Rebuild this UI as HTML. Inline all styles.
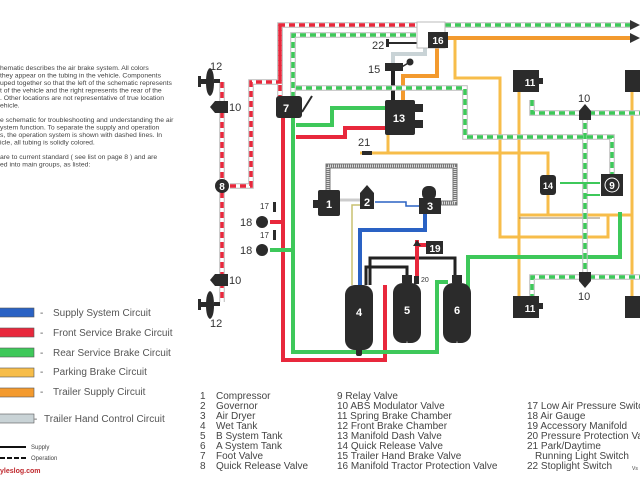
<!DOCTYPE html>
<html><head><meta charset="utf-8"><style>
html,body{margin:0;padding:0;background:#fff;width:640px;height:480px;overflow:hidden}
svg{display:block}
text{font-family:"Liberation Sans",sans-serif}
</style></head><body>
<svg width="640" height="480" viewBox="0 0 640 480" xmlns="http://www.w3.org/2000/svg">
<rect width="640" height="480" fill="#fff"/>
<g font-size="6.8" fill="#444">
<text x="0" y="70">hematic describes the air brake system. All colors</text>
<text x="0" y="77.5">they appear on the tubing in the vehicle. Components</text>
<text x="0" y="85">uped together so that the left of the schematic represents</text>
<text x="0" y="92.5">t of the vehicle and the right represents the rear of the</text>
<text x="0" y="100">. Other locations are not representative of true location</text>
<text x="0" y="107.5">ehicle.</text>
<text x="0" y="122">e schematic for troubleshooting and understanding the air</text>
<text x="0" y="129.5">ystem function. To separate the supply and operation</text>
<text x="0" y="137">s, the operation system is shown with dashed lines. In</text>
<text x="0" y="144.5">icle, all tubing is solidly colored.</text>
<text x="0" y="159">are to current standard ( see list on page 8 ) and are</text>
<text x="0" y="166.5">ed into main groups, as listed:</text>
</g>
<g stroke="#555" stroke-width="0.6">
<rect x="-1" y="308" width="35" height="9" fill="#2a62c4"/>
<rect x="-1" y="328" width="35" height="9" fill="#e8283c"/>
<rect x="-1" y="348" width="35" height="9" fill="#3ec85a"/>
<rect x="-1" y="368" width="35" height="9" fill="#f7bd4a"/>
<rect x="-1" y="388" width="35" height="9" fill="#f39a2e"/>
<rect x="-1" y="414" width="35" height="9" fill="#c9d3d6"/>
</g>
<g font-size="10" fill="#555">
<text x="40" y="316">-</text><text x="53" y="316">Supply System Circuit</text>
<text x="40" y="336">-</text><text x="53" y="336">Front Service Brake Circuit</text>
<text x="40" y="356">-</text><text x="53" y="356">Rear Service Brake Circuit</text>
<text x="40" y="375">-</text><text x="53" y="375">Parking Brake Circuit</text>
<text x="40" y="395">-</text><text x="53" y="395">Trailer Supply Circuit</text>
<text x="34" y="422">-</text><text x="44" y="422">Trailer Hand Control Circuit</text>
</g>
<line x1="0" y1="447" x2="26" y2="447" stroke="#111" stroke-width="2"/>
<line x1="0" y1="458" x2="26" y2="458" stroke="#111" stroke-width="2" stroke-dasharray="5,2"/>
<text x="31" y="449" font-size="6" fill="#444">Supply</text>
<text x="31" y="460" font-size="6" fill="#444">Operation</text>
<text x="0" y="473" font-size="7" fill="#c0282d" font-weight="bold">yleslog.com</text>
<g font-size="10" fill="#444">
<text x="200" y="399">1</text><text x="216" y="399">Compressor</text>
<text x="200" y="409">2</text><text x="216" y="409">Governor</text>
<text x="200" y="419">3</text><text x="216" y="419">Air Dryer</text>
<text x="200" y="429">4</text><text x="216" y="429">Wet Tank</text>
<text x="200" y="439">5</text><text x="216" y="439">B System Tank</text>
<text x="200" y="449">6</text><text x="216" y="449">A System Tank</text>
<text x="200" y="459">7</text><text x="216" y="459">Foot Valve</text>
<text x="200" y="469">8</text><text x="216" y="469">Quick Release Valve</text>
<text x="337" y="399">9  Relay Valve</text>
<text x="337" y="409">10 ABS Modulator Valve</text>
<text x="337" y="419">11 Spring Brake Chamber</text>
<text x="337" y="429">12 Front Brake Chamber</text>
<text x="337" y="439">13 Manifold Dash Valve</text>
<text x="337" y="449">14 Quick Release Valve</text>
<text x="337" y="459">15 Trailer Hand Brake Valve</text>
<text x="337" y="469">16 Manifold Tractor Protection Valve</text>
<text x="527" y="409">17 Low Air Pressure Switch</text>
<text x="527" y="419">18 Air Gauge</text>
<text x="527" y="429">19 Accessory Manifold</text>
<text x="527" y="439">20 Pressure Protection Valve</text>
<text x="527" y="449">21 Park/Daytime</text>
<text x="535" y="459">Running Light Switch</text>
<text x="527" y="469">22 Stoplight Switch</text>
<text x="632" y="470" font-size="5">Vs</text>
</g>

<g fill="none" stroke-linejoin="miter">
<path d="M328,194 V166 H455 V203 H440" stroke="#777" stroke-width="5"/>
<path d="M328,194 V166 H455 V203 H440" stroke="#ddd" stroke-width="3" stroke-dasharray="1,1"/>
<g stroke="#f7bd4a" stroke-width="3">
<path d="M455,40 V78 H500 V237 H608 V215"/>
<path d="M519,90 V300"/>
<path d="M632,82 V300"/>
<path d="M519,215 H632"/>
<path d="M360,153 H548 V190"/>
<path d="M548,190 V215"/>
<path d="M388,135 V153"/>
</g>
<path d="M519,218 H600" stroke="#6b5a3a" stroke-width="0.8"/>
<path d="M437,45 V76 H403 V100" stroke="#f39a2e" stroke-width="4"/>
<path d="M447,38 H634" stroke="#f39a2e" stroke-width="4"/>
<path d="M425,48 V54 H393 V86" stroke="#c9d3d6" stroke-width="4"/>
<path d="M393,66 V100" stroke="#222" stroke-width="4"/>
<path d="M283,118 V360 H385 V285" stroke="#e8283c" stroke-width="4"/>
<path d="M293,118 V352 H437 V282 H448" stroke="#3ec85a" stroke-width="4"/>
<path d="M385,108 H332 V125 H296" stroke="#3ec85a" stroke-width="4"/>
<path d="M385,128 H345 V137 H296" stroke="#e8283c" stroke-width="4"/>
<path d="M283,222 H270" stroke="#e8283c" stroke-width="4"/>
<path d="M293,250 H270" stroke="#3ec85a" stroke-width="4"/>
<path d="M468,298 V257 H620 V212" stroke="#3ec85a" stroke-width="4"/>
<path d="M360,285 V230 H425 V210" stroke="#2a62c4" stroke-width="4"/>
<path d="M375,202 H406 V206 H420" stroke="#2a62c4" stroke-width="1.5"/>
<path d="M340,200 H360" stroke="#ccc" stroke-width="3"/>
<path d="M367,205 H352 V285" stroke="#c8c070" stroke-width="1.5"/>
<path d="M370,285 V258 H455 V275" stroke="#222" stroke-width="3"/>
<path d="M366,285 V267 H407 V276" stroke="#222" stroke-width="3"/>
<path d="M417,282 V245 H430" stroke="#e8283c" stroke-width="4"/>
<path d="M417,250 V240" stroke="#e8283c" stroke-width="4"/>
<!-- dashed with gray border -->
<g stroke="#bbb" stroke-width="5.5">
<path d="M222,82 V302"/>
<path d="M230,186 H251 V82 H280 V25 H440"/>
<path d="M280,25 V98"/>
<path d="M293,98 V35 H416"/>
<path d="M445,25 H634"/>
<path d="M296,88 H465 V137 H612 V175"/>
<path d="M532,100 V113 H640"/>
<path d="M585,113 V277"/>
<path d="M532,300 V277 H640"/>
</g>
<g stroke="#fff" stroke-width="3.5">
<path d="M222,82 V302"/>
<path d="M230,186 H251 V82 H280 V25 H440"/>
<path d="M280,25 V98"/>
<path d="M293,98 V35 H416"/>
<path d="M445,25 H634"/>
<path d="M296,88 H465 V137 H612 V175"/>
<path d="M532,100 V113 H640"/>
<path d="M585,113 V277"/>
<path d="M532,300 V277 H640"/>
</g>
<g stroke-width="3.5">
<path d="M222,82 V302" stroke="#e8283c" stroke-dasharray="6,4"/>
<path d="M230,186 H251 V82 H280 V25 H440" stroke="#e8283c" stroke-dasharray="6,4"/>
<path d="M280,25 V98" stroke="#e8283c" stroke-dasharray="6,4"/>
<path d="M293,98 V35 H416" stroke="#3ec85a" stroke-dasharray="6,4"/>
<path d="M445,25 H634" stroke="#3ec85a" stroke-dasharray="6,4"/>
<path d="M296,88 H465 V137 H612 V175" stroke="#3ec85a" stroke-dasharray="6,4"/>
<path d="M532,100 V113 H640" stroke="#3ec85a" stroke-dasharray="6,4"/>
<path d="M585,113 V277" stroke="#3ec85a" stroke-dasharray="6,4"/>
<path d="M532,300 V277 H640" stroke="#3ec85a" stroke-dasharray="6,4"/>
</g>
<path d="M560,183 H600 M585,195 H600" stroke="#3ec85a" stroke-width="2"/>
</g>
<path d="M630,20 L640,25 L630,30Z M630,33 L640,38 L630,43Z" fill="#333"/>

<g fill="#2b2b2b">
<path d="M206,82 Q206,70 210,68 Q214,70 214,82 Q214,94 210,96 Q206,94 206,82Z"/><rect x="200" y="79" width="8" height="5"/><rect x="198" y="76" width="3" height="11"/><rect x="214" y="79" width="6" height="4"/>
<path d="M206,305 Q206,293 210,291 Q214,293 214,305 Q214,317 210,319 Q206,317 206,305Z"/><rect x="200" y="302" width="8" height="5"/><rect x="198" y="299" width="3" height="11"/><rect x="214" y="302" width="6" height="4"/>
<path d="M215,101 H228 V113 H215 L210,107Z"/>
<path d="M215,274 H228 V286 H215 L210,280Z"/>
<circle cx="222" cy="186" r="7"/>
<rect x="276" y="96" width="26" height="22" rx="3"/>
<path d="M302,112 L312,96" stroke="#2b2b2b" stroke-width="2"/>
<circle cx="262" cy="222" r="6"/><circle cx="262" cy="250" r="6"/>
<rect x="273" y="202" width="3" height="10"/><rect x="273" y="230" width="3" height="10"/>
<rect x="385" y="100" width="30" height="35" rx="2"/>
<rect x="415" y="104" width="8" height="8"/><rect x="415" y="120" width="8" height="8"/>
<rect x="385" y="63" width="18" height="8"/>
<circle cx="410" cy="62" r="3.5"/><path d="M400,68 L410,62" stroke="#2b2b2b" stroke-width="1.5"/>
<rect x="388" y="42" width="40" height="2"/><rect x="386" y="39" width="3" height="8"/>
<rect x="362" y="151" width="10" height="4"/>
<rect x="417" y="22" width="28" height="26" fill="#fff" stroke="#bbb" stroke-width="1"/>
<rect x="428" y="32" width="20" height="16"/>
<rect x="318" y="190" width="22" height="26" rx="2"/><rect x="313" y="200" width="6" height="8"/>
<rect x="360" y="193" width="14" height="16"/><path d="M360,193 L367,185 L374,193Z"/>
<rect x="419" y="198" width="22" height="16"/><rect x="422" y="186" width="14" height="14" rx="6"/>
<rect x="426" y="241" width="17" height="13"/>
<path d="M413,246 L417,240 L421,246Z"/>
<rect x="345" y="285" width="28" height="65" rx="10"/><rect x="356" y="348" width="6" height="8" rx="2"/>
<rect x="393" y="283" width="28" height="60" rx="10"/>
<rect x="443" y="283" width="28" height="60" rx="10"/>
<rect x="402" y="275" width="10" height="8"/><rect x="452" y="275" width="10" height="8"/>
<rect x="414" y="276" width="5" height="8"/>
<rect x="513" y="70" width="26" height="22"/><rect x="539" y="78" width="4" height="6"/>
<rect x="513" y="296" width="26" height="22"/><rect x="539" y="303" width="4" height="6"/>
<rect x="625" y="70" width="20" height="22"/><rect x="625" y="296" width="20" height="22"/>
<path d="M579,111 L585,104 L591,111 V120 H579Z"/>
<path d="M579,272 H591 V281 L585,288 L579,281Z"/>
<rect x="540" y="175" width="16" height="20" rx="3"/>
<rect x="601" y="174" width="22" height="22"/>
</g>
<circle cx="612" cy="185" r="7" fill="none" stroke="#fff" stroke-width="1"/>
<g fill="#fff" font-weight="bold" text-anchor="middle" font-size="11">
<text x="222" y="190" font-size="10">8</text>
<text x="286" y="112">7</text>
<text x="399" y="122">13</text>
<text x="438" y="44" font-size="10">16</text>
<text x="329" y="208">1</text>
<text x="367" y="206">2</text>
<text x="430" y="210">3</text>
<text x="359" y="316">4</text>
<text x="407" y="314">5</text>
<text x="457" y="314">6</text>
<text x="435" y="252" font-size="10">19</text>
<text x="530" y="86" font-size="10">11</text>
<text x="530" y="312" font-size="10">11</text>
<text x="548" y="189" font-size="9">14</text>
<text x="612" y="189" font-size="10">9</text>
</g>
<g fill="#333" font-size="11">
<text x="210" y="70">12</text>
<text x="210" y="327">12</text>
<text x="229" y="111">10</text>
<text x="229" y="284">10</text>
<text x="240" y="226">18</text>
<text x="240" y="254">18</text>
<text x="260" y="209" font-size="8">17</text>
<text x="260" y="238" font-size="8">17</text>
<text x="372" y="49">22</text>
<text x="368" y="73">15</text>
<text x="358" y="146">21</text>
<text x="578" y="102">10</text>
<text x="578" y="300">10</text>
<text x="421" y="282" font-size="7">20</text>
</g>
<g fill="#fff" font-size="9" text-anchor="middle"><text x="407" y="347">+</text><text x="457" y="347">+</text></g>
</svg>
</body></html>
